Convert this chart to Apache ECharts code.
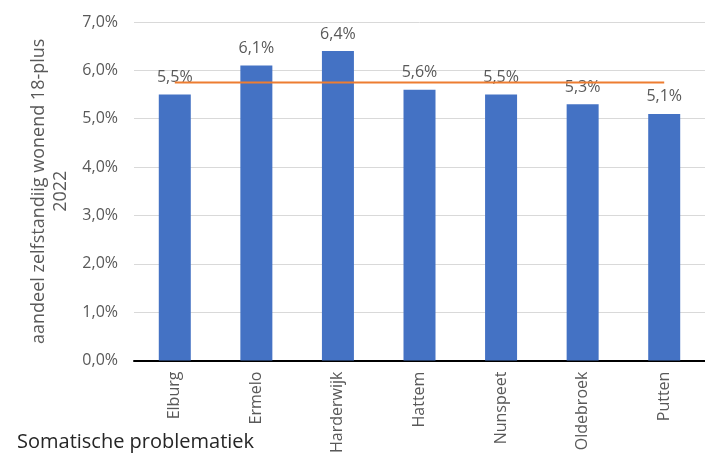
<!DOCTYPE html>
<html>
<head>
<meta charset="utf-8">
<script src="https://cdn.jsdelivr.net/npm/echarts@6/dist/echarts.min.js"></script>
<style>
  html, body { margin: 0; padding: 0; background: #fff; }
  #chart { width: 705px; height: 456px; }
</style>
</head>
<body>
<div id="chart"></div>
<script>
// Municipalities and their share of independently living adults (18+) with somatic problems, 2022
const gemeenten = ['Elburg', 'Ermelo', 'Harderwijk', 'Hattem', 'Nunspeet', 'Oldebroek', 'Putten'];
const aandeel = [5.5, 6.1, 6.4, 5.6, 5.5, 5.3, 5.1];
// Regional average drawn as a flat reference line
const gemiddelde = [5.75, 5.75, 5.75, 5.75, 5.75, 5.75, 5.75];
const yTicks = { min: 0, max: 7, interval: 1 };

const fmt = v => v.toFixed(1).replace('.', ',') + '%';
const FONT = 'Open Sans';

const chart = echarts.init(document.getElementById('chart'), null, { renderer: 'canvas' });
chart.setOption({
  animation: false,
  textStyle: { fontFamily: FONT },
  title: {
    text: 'Somatische problematiek',
    left: 12,
    top: 427,
    textStyle: { fontFamily: FONT, fontSize: 20, fontWeight: 'normal', color: '#262626' }
  },
  grid: { left: 134, right: -10, top: 22, bottom: 95 },
  xAxis: {
    type: 'category',
    data: gemeenten,
    axisLine: { lineStyle: { color: '#000', width: 2 } },
    axisTick: { show: false },
    axisLabel: { rotate: 90, color: '#595959', fontSize: 16, margin: 11, fontFamily: FONT }
  },
  yAxis: {
    type: 'value',
    min: yTicks.min,
    max: yTicks.max,
    interval: yTicks.interval,
    name: 'aandeel zelfstandiig wonend 18-plus\n2022',
    nameLocation: 'middle',
    nameGap: 62,
    nameRotate: 90,
    nameTextStyle: { color: '#595959', fontSize: 18, fontFamily: FONT, lineHeight: 22 },
    axisLine: { show: false },
    axisTick: { show: false },
    axisLabel: { color: '#595959', fontSize: 16, margin: 16, fontFamily: FONT, formatter: v => fmt(v) },
    splitLine: { lineStyle: { color: '#d9d9d9', width: 1 } }
  },
  series: [
    {
      type: 'bar',
      data: aandeel,
      barWidth: 32,
      itemStyle: { color: '#4472c4' },
      label: {
        show: true,
        position: 'top',
        distance: 9,
        color: '#595959',
        fontSize: 16,
        fontFamily: FONT,
        formatter: p => fmt(p.value)
      },
      z: 2
    },
    {
      type: 'line',
      data: gemiddelde,
      symbol: 'none',
      lineStyle: { color: '#ed7d31', width: 2 },
      z: 3
    }
  ]
});
</script>
</body>
</html>
